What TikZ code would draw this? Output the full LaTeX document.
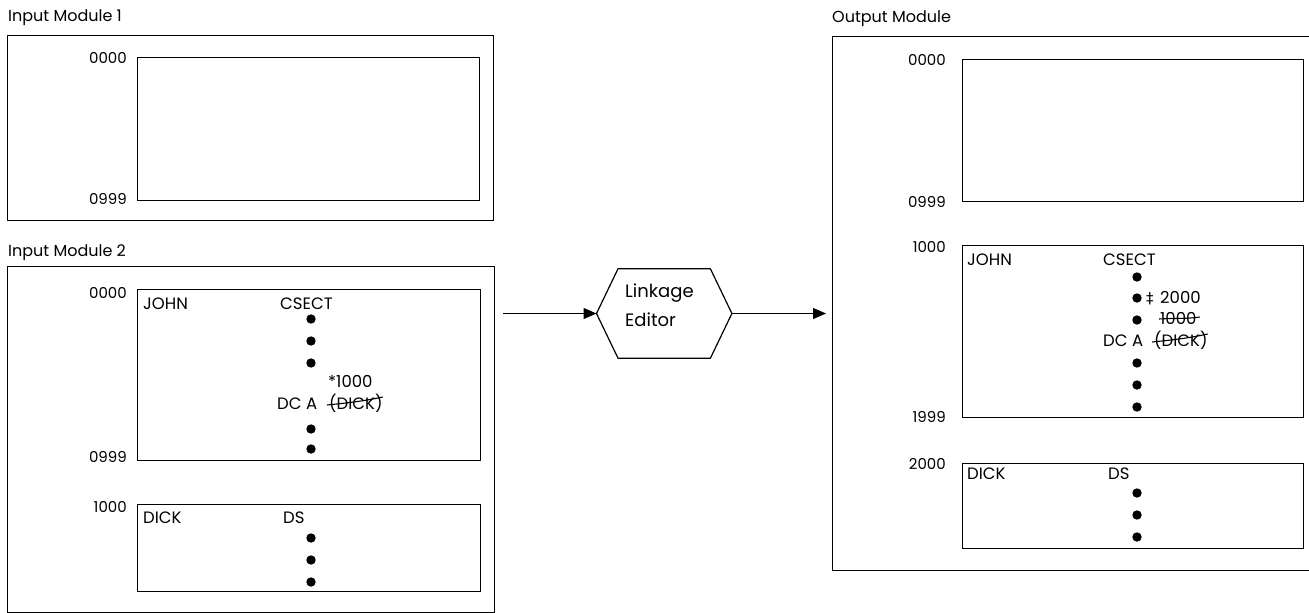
\documentclass[tikz,border=0pt]{standalone}
\usepackage{fontspec}
\setmainfont{Poppins}
\newfontfamily\symf{DejaVu Sans}
\usetikzlibrary{arrows.meta}
\begin{document}
\begin{tikzpicture}[x=1pt,y=-1pt,
  outerbox/.style={draw, line width=1.4pt, inner sep=0pt, anchor=north west},
  innerbox/.style={draw, line width=1.2pt, inner sep=0pt, anchor=north west},
  title/.style={anchor=base west, inner sep=0pt, font=\fontsize{16}{19}\selectfont},
  addr/.style={anchor=base east, inner sep=0pt, font=\fontsize{15}{18}\selectfont},
  txt/.style={anchor=base west, inner sep=0pt, font=\fontsize{16.5}{19}\selectfont},
  letxt/.style={anchor=base west, inner sep=0pt, font=\fontsize{18}{22}\selectfont},
  dot/.style={circle, fill=black, inner sep=0pt, minimum size=9.4pt},
  arr/.style={line width=1.1pt, -{Triangle[length=13pt,width=11pt]}},
  strike/.style={line width=1.1pt}
]
\useasboundingbox (0,0) rectangle (1309,613);
\clip (0,0) rectangle (1309,613);

% ---------- Input Module 1 ----------
\node[title] (t1) at (8,21) {Input Module 1};
\node[outerbox, minimum width=486pt, minimum height=185pt] (im1) at (7,35) {};
\node[innerbox, minimum width=342pt, minimum height=143pt] (im1a) at (137,57) {};
\node[addr] (a1) at (127,63) {0000};
\node[addr] (a2) at (127,204) {0999};

% ---------- Input Module 2 ----------
\node[title] (t2) at (8,256) {Input Module 2};
\node[outerbox, minimum width=487pt, minimum height=346pt] (im2) at (7,266) {};
\node[innerbox, minimum width=343pt, minimum height=171pt] (im2j) at (137,289) {};
\node[innerbox, minimum width=343pt, minimum height=87pt] (im2d) at (137,504) {};
\node[addr] (a3) at (127,298) {0000};
\node[addr] (a4) at (127,462) {0999};
\node[addr] (a5) at (127,512) {1000};

\node[txt] (j1) at (143,309) {JOHN};
\node[txt] (c1) at (280,309) {CSECT};
\node[dot] (d1) at (311,319) {};
\node[dot] (d2) at (311,341) {};
\node[dot] (d3) at (311,363) {};
\node[txt] (s1) at (328,387) {*1000};
\node[txt] (dc1) at (277,409) {DC A};
\node[txt] (dk1) at (329,409) {(DICK)};
\node[dot] (d4) at (311,429) {};
\node[dot] (d5) at (311,449) {};
\draw[strike] ([xshift=-2pt,yshift=4pt]dk1.base west) .. controls ([xshift=18pt,yshift=6pt]dk1.base west) and ([xshift=-18pt,yshift=8pt]dk1.base east) .. ([xshift=0pt,yshift=12pt]dk1.base east);

\node[txt] (k1) at (143,523) {DICK};
\node[txt] (ds1) at (283,523) {DS};
\node[dot] (d6) at (311,538) {};
\node[dot] (d7) at (311,560) {};
\node[dot] (d8) at (311,582) {};

% ---------- Linkage Editor ----------
\node[minimum width=135pt, minimum height=89pt, inner sep=0pt] (le) at (664.2,313.5) {};
\draw[line width=1.2pt, line join=round] (le.west) -- ([xshift=21.5pt]le.north west) -- ([xshift=-21.5pt]le.north east) -- (le.east) -- ([xshift=-21.5pt]le.south east) -- ([xshift=21.5pt]le.south west) -- cycle;
\node[letxt] (le1) at (625,297) {Linkage};
\node[letxt] (le2) at (625,326) {Editor};

% ---------- Output Module ----------
\node[title] (t3) at (832,22) {Output Module};
\node[outerbox, minimum width=495pt, minimum height=534pt] (om) at (832,36) {};
\node[innerbox, minimum width=341pt, minimum height=142pt] (om0) at (962,59) {};
\node[innerbox, minimum width=341pt, minimum height=172pt] (omj) at (962,245) {};
\node[innerbox, minimum width=341pt, minimum height=85pt] (omd) at (962,463) {};
\node[addr] (b1) at (946,65) {0000};
\node[addr] (b2) at (946,207) {0999};
\node[addr] (b3) at (946,252) {1000};
\node[addr] (b4) at (946,422) {1999};
\node[addr] (b5) at (946,469) {2000};

\node[txt] (j2) at (967,265) {JOHN};
\node[txt] (c2) at (1103,265) {CSECT};
\node[dot] (e1) at (1137,277) {};
\node[dot] (e2) at (1137,298) {};
\node[dot] (e3) at (1137,320) {};
\node[txt] (dg) at (1146,303) {{\symf\fontsize{15}{18}\selectfont ‡}};
\node[txt] (n2) at (1160,303) {2000};
\node[txt] (n1) at (1160,324) {1000};
\draw[strike] ([xshift=-1pt,yshift=5pt]n1.base west) .. controls ([xshift=15pt,yshift=6pt]n1.base west) and ([xshift=-10pt,yshift=5pt]n1.base east) .. ([xshift=3pt,yshift=7pt]n1.base east);
\node[txt] (dc2) at (1103,346) {DC A};
\node[txt] (dk2) at (1154,346) {(DICK)};
\draw[strike] ([xshift=-2pt,yshift=4pt]dk2.base west) .. controls ([xshift=18pt,yshift=6pt]dk2.base west) and ([xshift=-18pt,yshift=8pt]dk2.base east) .. ([xshift=0pt,yshift=12pt]dk2.base east);
\node[dot] (e4) at (1137,363) {};
\node[dot] (e5) at (1137,385) {};
\node[dot] (e6) at (1137,407) {};

\node[txt] (k2) at (967,479) {DICK};
\node[txt] (ds2) at (1108,479) {DS};
\node[dot] (e7) at (1137,493) {};
\node[dot] (e8) at (1137,515) {};
\node[dot] (e9) at (1137,537) {};

% ---------- connectors ----------
\draw[arr] ([xshift=8pt]im2.east |- le.west) -- (le.west);
\draw[arr] (le.east) -- ([xshift=-6pt]om.west |- le.east);
\end{tikzpicture}
\end{document}
